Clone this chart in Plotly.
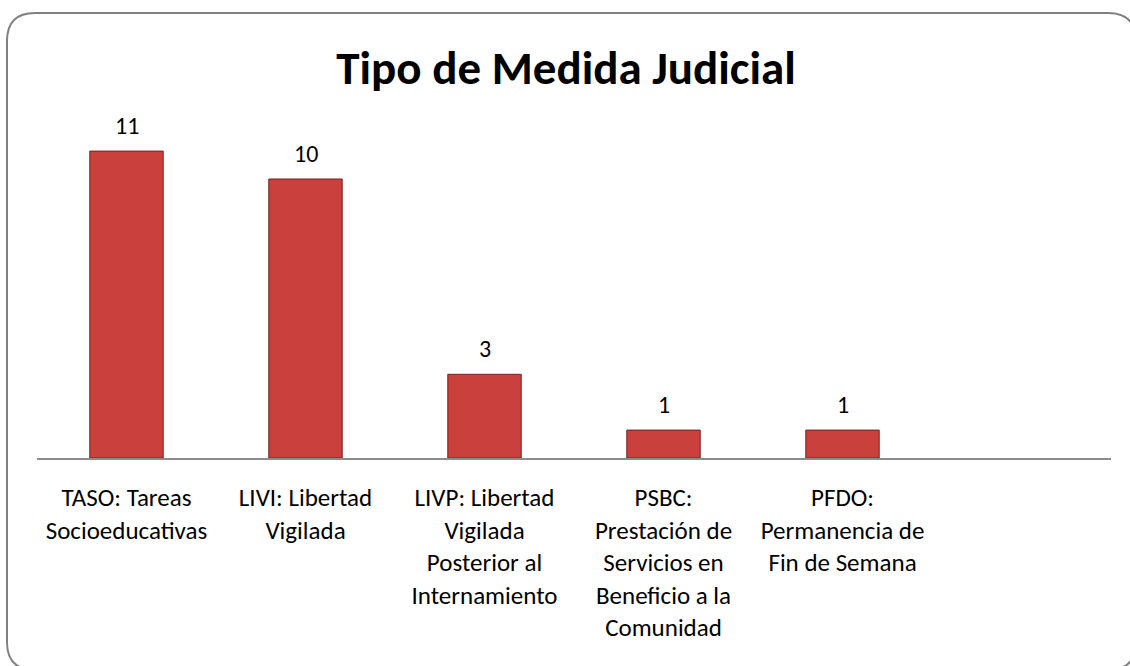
import plotly.graph_objects as go

categories = [
    "TASO: Tareas<br>Socioeducativas",
    "LIVI: Libertad<br>Vigilada",
    "LIVP: Libertad<br>Vigilada<br>Posterior al<br>Internamiento",
    "PSBC:<br>Prestación de<br>Servicios en<br>Beneficio a la<br>Comunidad",
    "PFDO:<br>Permanencia de<br>Fin de Semana",
]
values = [11, 10, 3, 1, 1]
title_text = "Tipo de Medida Judicial"

W, H = 1130, 666
FONT = "Carlito, Calibri, Lato, 'Open Sans', sans-serif"

fig = go.Figure()
fig.add_trace(go.Bar(
    x=categories,
    y=values,
    marker=dict(color="#C9403D", line=dict(color="#7A1E1E", width=1)),
    hoverinfo="skip",
))

for c, v in zip(categories, values):
    fig.add_annotation(x=c, y=v, text=str(v), showarrow=False,
                       yanchor="bottom", yshift=9,
                       font=dict(size=24, color="#000000", family=FONT))

# rounded frame around the chart (figure fractions; right/bottom run past the edge)
x0, x1 = 7 / W, 1136 / W
y0, y1 = 1 - 670 / H, 1 - 13 / H
rx, ry = 28 / W, 28 / H
path = (
    f"M {x0+rx},{y1} L {x1-rx},{y1} Q {x1},{y1} {x1},{y1-ry} "
    f"L {x1},{y0+ry} Q {x1},{y0} {x1-rx},{y0} "
    f"L {x0+rx},{y0} Q {x0},{y0} {x0},{y0+ry} "
    f"L {x0},{y1-ry} Q {x0},{y1} {x0+rx},{y1} Z"
)
fig.add_shape(type="path", path=path, xref="paper", yref="paper",
              line=dict(color="#808080", width=2), layer="below")

fig.update_layout(
    width=W, height=H,
    margin=dict(l=0, r=0, t=0, b=0),
    paper_bgcolor="white", plot_bgcolor="white",
    showlegend=False,
    bargap=0.59,
    font=dict(family=FONT, color="#000000"),
    title=dict(text=f"<b>{title_text}</b>", x=566 / W, xanchor="center",
               y=1 - 68 / H, yanchor="middle", xref="paper", yref="paper",
               font=dict(size=47, color="#000000", family=FONT)),
    xaxis=dict(
        domain=[37 / W, 1111 / W],
        range=[-0.5, 5.5],
        showgrid=False, zeroline=False,
        showline=True, linecolor="#8C8C8C", linewidth=2,
        ticks="", ticklabelstandoff=16,
        tickfont=dict(size=25, color="#000000", family=FONT),
        tickangle=0,
    ),
    yaxis=dict(
        domain=[1 - 458 / H, 1 - 100 / H],
        range=[0, 358 / 27.9],
        visible=False,
    ),
)

fig.write_html("out.html", config={"displayModeBar": False},
               post_script="document.body.style.margin='0';")
